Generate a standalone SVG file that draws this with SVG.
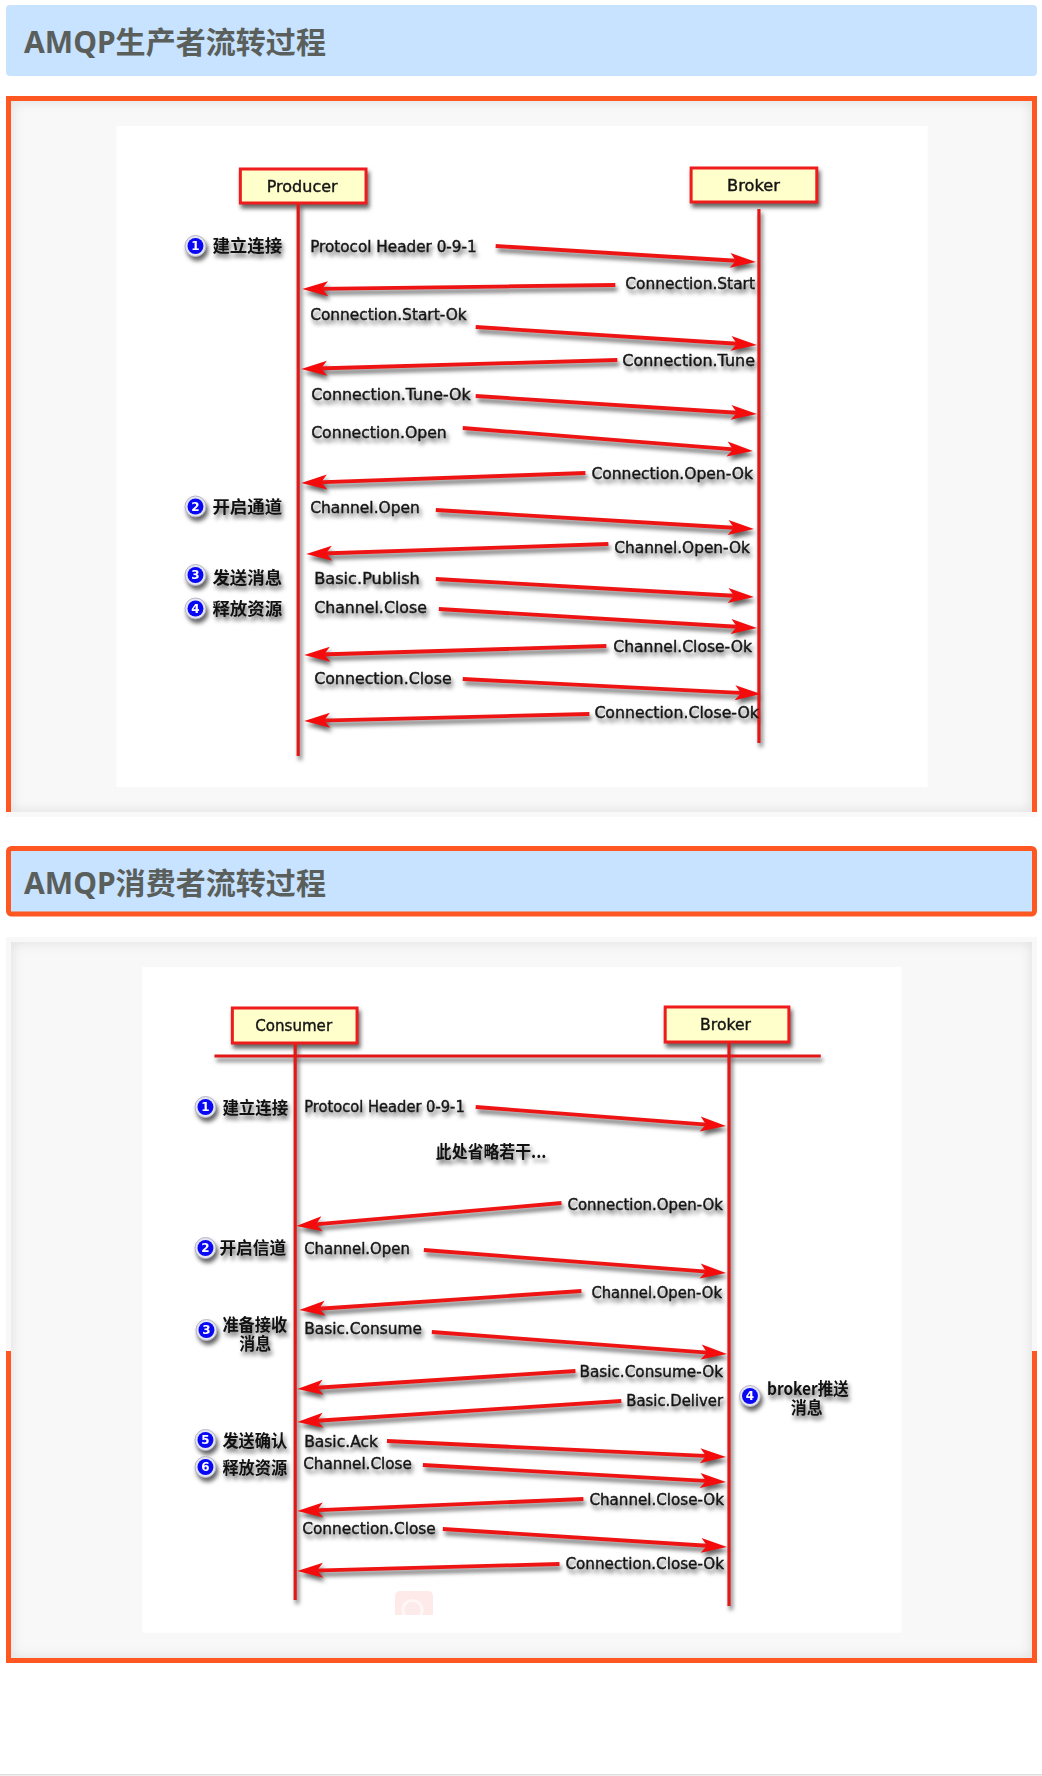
<svg xmlns="http://www.w3.org/2000/svg" width="1042" height="1776" viewBox="0 0 1042 1776">
<defs>
<style>
.hdr{fill:#c8e3ff}
.ttl{font-family:"Noto Sans","Noto Sans CJK SC",sans-serif;font-weight:700;font-size:30px;fill:#5a5f5c}
.or{fill:#ff5722}
.pbg{fill:#f8f8f8}
.ins{fill:none;stroke:#000;stroke-opacity:.14;stroke-width:6}
.box{fill:#ffffcc;stroke:#ee1c1c;stroke-width:3}
.ll{stroke:#e01818;stroke-width:3.2;fill:none}
.ar{stroke:#ee1414;stroke-width:3.8;fill:none;marker-end:url(#ah)}
.t{font-family:"DejaVu Sans",sans-serif;font-size:15.5px;fill:#141414;font-weight:400;stroke:#141414;stroke-width:.4}
.c{font-family:"Noto Sans CJK SC","DejaVu Sans",sans-serif;font-size:16.5px;fill:#111;font-weight:700}
.r1{fill:#e6e6f2;stroke:#b4b4c4;stroke-width:1}
.r2{fill:#0808f4}
.n{font-family:"DejaVu Sans",sans-serif;font-size:12px;font-weight:700;fill:#fff;text-anchor:middle}
</style>
<marker id="ah" markerUnits="userSpaceOnUse" markerWidth="30" markerHeight="18" refX="10" refY="8" orient="auto" overflow="visible">
<path d="M0 0.5L26 8L0 15.5L6 8Z" fill="#f40c0c"/>
</marker>
<filter id="sh" filterUnits="userSpaceOnUse" x="0" y="0" width="1042" height="1776" color-interpolation-filters="sRGB">
<feGaussianBlur in="SourceAlpha" stdDeviation="2" result="b"/>
<feOffset in="b" dx="2" dy="3.5" result="o"/>
<feFlood flood-color="#000" flood-opacity=".6"/>
<feComposite in2="o" operator="in" result="s"/>
<feGaussianBlur in="SourceGraphic" stdDeviation=".75" result="g"/>
<feMerge><feMergeNode in="s"/><feMergeNode in="g"/></feMerge>
</filter>
<filter id="soft" filterUnits="userSpaceOnUse" x="0" y="0" width="1042" height="1776"><feGaussianBlur stdDeviation="6"/></filter>
<clipPath id="c1"><rect x="11" y="101" width="1021" height="711"/></clipPath>
<clipPath id="c2"><rect x="11" y="942" width="1021" height="716"/></clipPath>
<clipPath id="c3"><rect x="395" y="1591" width="38" height="24"/></clipPath>
</defs>
<rect width="1042" height="1776" fill="#fff"/>

<g id="header-1">
<rect class="hdr" x="6" y="5" width="1031" height="71" rx="4"/>
<text class="ttl" x="24" y="52.5" textLength="302" lengthAdjust="spacingAndGlyphs">AMQP生产者流转过程</text>
</g>

<g id="panel-1">
<rect class="pbg" x="6" y="96" width="1031" height="721"/>
<g clip-path="url(#c1)"><rect class="ins" x="8" y="98" width="1027" height="717" filter="url(#soft)"/></g>
<path class="or" d="M6 96H1037V812H1032V101H11V812H6Z"/>
<rect x="116.4" y="126" width="811.2" height="661" fill="#fff"/>
</g>

<g id="diagram-1" filter="url(#sh)">
<g transform="scale(.9973 1)">
<g id="lifelines-1">
<path class="ll" d="M299 203V756"/>
<path class="ll" d="M761 209V743"/>
</g>
<g id="node-producer"><rect class="box" x="241" y="169" width="126" height="34"/><text class="t" x="267.5" y="192" textLength="71" lengthAdjust="spacingAndGlyphs">Producer</text></g>
<g id="node-broker-1"><rect class="box" x="693" y="168" width="126" height="34"/><text class="t" x="729" y="191" textLength="53" lengthAdjust="spacingAndGlyphs">Broker</text></g>
<g id="connectors-1">
<path class="ar" d="M497 246L742 261"/>
<path class="ar" d="M617 285L319 288.8"/>
<path class="ar" d="M477 327L743 344"/>
<path class="ar" d="M619 360L318 368.5"/>
<path class="ar" d="M477 396L743 413"/>
<path class="ar" d="M464 428L739 449.7"/>
<path class="ar" d="M587 473L318 482.4"/>
<path class="ar" d="M437 510L740 528"/>
<path class="ar" d="M610 544L323 553.5"/>
<path class="ar" d="M437 579L740 596"/>
<path class="ar" d="M440 609L743 627"/>
<path class="ar" d="M608 646L321 654.5"/>
<path class="ar" d="M464 679L747 693.2"/>
<path class="ar" d="M591 714L321 720.6"/>
</g>
<g id="labels-1">
<text class="t" x="311" y="252" textLength="167" lengthAdjust="spacingAndGlyphs">Protocol Header 0-9-1</text>
<text class="t" x="627" y="289" textLength="130" lengthAdjust="spacingAndGlyphs">Connection.Start</text>
<text class="t" x="311" y="320.5" textLength="157" lengthAdjust="spacingAndGlyphs">Connection.Start-Ok</text>
<text class="t" x="624" y="366.5" textLength="133" lengthAdjust="spacingAndGlyphs">Connection.Tune</text>
<text class="t" x="312" y="400" textLength="160" lengthAdjust="spacingAndGlyphs">Connection.Tune-Ok</text>
<text class="t" x="312" y="438" textLength="136" lengthAdjust="spacingAndGlyphs">Connection.Open</text>
<text class="t" x="593" y="479" textLength="162" lengthAdjust="spacingAndGlyphs">Connection.Open-Ok</text>
<text class="t" x="311" y="513" textLength="110" lengthAdjust="spacingAndGlyphs">Channel.Open</text>
<text class="t" x="616" y="553" textLength="136" lengthAdjust="spacingAndGlyphs">Channel.Open-Ok</text>
<text class="t" x="315" y="584" textLength="106" lengthAdjust="spacingAndGlyphs">Basic.Publish</text>
<text class="t" x="315" y="613" textLength="113" lengthAdjust="spacingAndGlyphs">Channel.Close</text>
<text class="t" x="615" y="652" textLength="139" lengthAdjust="spacingAndGlyphs">Channel.Close-Ok</text>
<text class="t" x="315" y="684" textLength="138" lengthAdjust="spacingAndGlyphs">Connection.Close</text>
<text class="t" x="596" y="718" textLength="165" lengthAdjust="spacingAndGlyphs">Connection.Close-Ok</text>
</g>
<g id="step-1-1"><circle class="r1" cx="196" cy="246" r="10.5"/><circle class="r2" cx="196" cy="246" r="8"/><text class="n" x="196" y="250.5">1</text><text class="c" x="213" y="252" textLength="70" lengthAdjust="spacingAndGlyphs">建立连接</text></g>
<g id="step-1-2"><circle class="r1" cx="196" cy="506.5" r="10.5"/><circle class="r2" cx="196" cy="506.5" r="8"/><text class="n" x="196" y="511">2</text><text class="c" x="213" y="513" textLength="70" lengthAdjust="spacingAndGlyphs">开启通道</text></g>
<g id="step-1-3"><circle class="r1" cx="196" cy="575" r="10.5"/><circle class="r2" cx="196" cy="575" r="8"/><text class="n" x="196" y="579.5">3</text><text class="c" x="213" y="584" textLength="70" lengthAdjust="spacingAndGlyphs">发送消息</text></g>
<g id="step-1-4"><circle class="r1" cx="196" cy="608.5" r="10.5"/><circle class="r2" cx="196" cy="608.5" r="8"/><text class="n" x="196" y="613">4</text><text class="c" x="213" y="615.5" textLength="70" lengthAdjust="spacingAndGlyphs">释放资源</text></g>
</g>
</g>

<g id="header-2">
<rect class="hdr" x="8.5" y="848.5" width="1026" height="65.5" rx="3" stroke="#ff5722" stroke-width="5"/>
<text class="ttl" x="24" y="893.5" textLength="302" lengthAdjust="spacingAndGlyphs">AMQP消费者流转过程</text>
</g>

<g id="panel-2">
<rect class="pbg" x="6" y="937" width="1031" height="726"/>
<g clip-path="url(#c2)"><rect class="ins" x="8" y="939" width="1027" height="722" filter="url(#soft)"/></g>
<path class="or" d="M6 1351H11V1658H1032V1351H1037V1663H6Z"/>
<rect x="142.3" y="967" width="759.3" height="665.7" fill="#fff"/>
<g id="watermark" clip-path="url(#c3)"><rect x="395" y="1591" width="38" height="40" rx="5" fill="#ffeaea"/><circle cx="412.5" cy="1610" r="9.5" fill="#fdeaea" stroke="#fff6f6" stroke-width="3"/></g>
</g>

<g id="diagram-2" filter="url(#sh)">
<g transform="scale(.9973 1)">
<g id="lifelines-2">
<path class="ll" d="M215 1056H823" stroke-width="3"/>
<path class="ll" d="M296 1043V1600"/>
<path class="ll" d="M731 1042V1606"/>
</g>
<g id="node-consumer"><rect class="box" x="233" y="1008" width="125" height="35"/><text class="t" x="256" y="1031" textLength="77" lengthAdjust="spacingAndGlyphs">Consumer</text></g>
<g id="node-broker-2"><rect class="box" x="667" y="1007" width="124" height="35"/><text class="t" x="702" y="1030" textLength="51" lengthAdjust="spacingAndGlyphs">Broker</text></g>
<g id="connectors-2">
<path class="ar" d="M477 1107L712 1124.8"/>
<path class="ar" d="M563 1203L313 1224.6"/>
<path class="ar" d="M425 1250L712 1271.8"/>
<path class="ar" d="M583 1291L316 1309"/>
<path class="ar" d="M433 1332L713 1352.8"/>
<path class="ar" d="M577 1371L314 1388"/>
<path class="ar" d="M623 1401L314 1421"/>
<path class="ar" d="M388 1441L712 1456.2"/>
<path class="ar" d="M424 1465L712 1481.1"/>
<path class="ar" d="M585 1499L314 1510.3"/>
<path class="ar" d="M444 1529L713 1546"/>
<path class="ar" d="M561 1564L314 1570.6"/>
</g>
<g id="labels-2">
<text class="t" x="305" y="1112" textLength="161" lengthAdjust="spacingAndGlyphs">Protocol Header 0-9-1</text>
<text class="c" x="437" y="1158" textLength="111" lengthAdjust="spacingAndGlyphs">此处省略若干...</text>
<text class="t" x="569" y="1210" textLength="156" lengthAdjust="spacingAndGlyphs">Connection.Open-Ok</text>
<text class="t" x="305" y="1254" textLength="106" lengthAdjust="spacingAndGlyphs">Channel.Open</text>
<text class="t" x="593" y="1298" textLength="131" lengthAdjust="spacingAndGlyphs">Channel.Open-Ok</text>
<text class="t" x="305" y="1334" textLength="118" lengthAdjust="spacingAndGlyphs">Basic.Consume</text>
<text class="t" x="581" y="1377" textLength="144" lengthAdjust="spacingAndGlyphs">Basic.Consume-Ok</text>
<text class="t" x="628" y="1406" textLength="97" lengthAdjust="spacingAndGlyphs">Basic.Deliver</text>
<text class="t" x="305" y="1447" textLength="74" lengthAdjust="spacingAndGlyphs">Basic.Ack</text>
<text class="t" x="304" y="1469" textLength="109" lengthAdjust="spacingAndGlyphs">Channel.Close</text>
<text class="t" x="591" y="1505" textLength="135" lengthAdjust="spacingAndGlyphs">Channel.Close-Ok</text>
<text class="t" x="303" y="1534" textLength="134" lengthAdjust="spacingAndGlyphs">Connection.Close</text>
<text class="t" x="567" y="1569" textLength="159" lengthAdjust="spacingAndGlyphs">Connection.Close-Ok</text>
</g>
<g id="step-2-1"><circle class="r1" cx="206" cy="1107" r="10.5"/><circle class="r2" cx="206" cy="1107" r="8"/><text class="n" x="206" y="1111.5">1</text><text class="c" x="223" y="1114" textLength="66" lengthAdjust="spacingAndGlyphs">建立连接</text></g>
<g id="step-2-2"><circle class="r1" cx="206" cy="1248" r="10.5"/><circle class="r2" cx="206" cy="1248" r="8"/><text class="n" x="206" y="1252.5">2</text><text class="c" x="220" y="1254" textLength="67" lengthAdjust="spacingAndGlyphs">开启信道</text></g>
<g id="step-2-3"><circle class="r1" cx="207" cy="1330" r="10.5"/><circle class="r2" cx="207" cy="1330" r="8"/><text class="n" x="207" y="1334.5">3</text><text class="c" x="223" y="1331" textLength="65" lengthAdjust="spacingAndGlyphs">准备接收</text><text class="c" x="240" y="1350" textLength="32" lengthAdjust="spacingAndGlyphs">消息</text></g>
<g id="step-2-4"><circle class="r1" cx="752" cy="1396" r="10.5"/><circle class="r2" cx="752" cy="1396" r="8"/><text class="n" x="752" y="1400.5">4</text><text class="c" x="769" y="1395" textLength="82" lengthAdjust="spacingAndGlyphs">broker推送</text><text class="c" x="793" y="1414" textLength="32" lengthAdjust="spacingAndGlyphs">消息</text></g>
<g id="step-2-5"><circle class="r1" cx="206" cy="1440" r="10.5"/><circle class="r2" cx="206" cy="1440" r="8"/><text class="n" x="206" y="1444.5">5</text><text class="c" x="223" y="1447" textLength="65" lengthAdjust="spacingAndGlyphs">发送确认</text></g>
<g id="step-2-6"><circle class="r1" cx="206" cy="1467" r="10.5"/><circle class="r2" cx="206" cy="1467" r="8"/><text class="n" x="206" y="1471.5">6</text><text class="c" x="223" y="1474" textLength="65" lengthAdjust="spacingAndGlyphs">释放资源</text></g>
</g>
</g>

<rect id="footer-line" x="0" y="1774" width="1042" height="1.5" fill="#dddddd"/>
</svg>
